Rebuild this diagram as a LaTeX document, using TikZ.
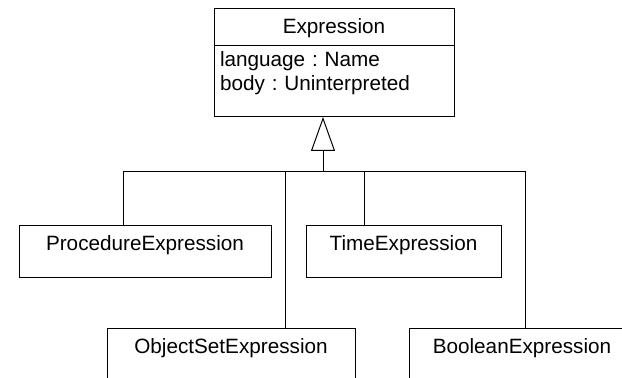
\documentclass[tikz,border=0pt]{standalone}
\usepackage{fontspec}
\setmainfont{Liberation Sans}
\usetikzlibrary{positioning,arrows.meta}
\frenchspacing
\newcommand{\umlfont}{\fontsize{10.35}{12}\selectfont}
\tikzset{
  umlclass/.style={draw=black, line width=0.5pt, outer sep=0pt, inner xsep=0pt, inner ysep=0pt,
    font=\umlfont, text height=12.5pt, text depth=13.5pt},
  umlattr/.style={draw=black, line width=0.5pt, outer sep=0pt, inner xsep=3pt, inner ysep=0pt,
    font=\umlfont, align=left, text width=114pt, text height=10.5pt, text depth=25pt},
  umlline/.style={draw=black, line width=0.5pt},
  generalization/.style={-{Triangle[open,length=17pt,width=12pt]}},
}

\begin{document}
\begin{tikzpicture}[x=0.5pt,y=0.5pt]
    \useasboundingbox (0,0) rectangle (622,-378);
    \clip (0,0) rectangle (622,-378);
    % superclass
    \node [umlclass, minimum width=120pt, text depth=6pt] (expr) at (334,-27.5) {Expression};
    \node [umlattr, below=0pt of expr] (exprattr) {language : Name\\body : Uninterpreted};
    % subclasses
    \node [umlclass, minimum width=126pt] (procexpr) at (145,-252) {ProcedureExpression};
    \node [umlclass, minimum width=97.5pt] (timeexpr) at (403.5,-252) {TimeExpression};
    \node [umlclass, minimum width=124pt] (objsetexpr) at (231,-355) {ObjectSetExpression};
    \node [umlclass, minimum width=113pt] (boolexpr) at (522,-355) {BooleanExpression};
    % inheritance tree
    \coordinate (join) at (323,-172);
    \coordinate (tproc) at (123,-172);
    \coordinate (tobj) at (285,-172);
    \coordinate (ttime) at (364,-172);
    \coordinate (tbool) at (525,-172);
    \draw [umlline, generalization] (join) -- (join |- exprattr.south);
    \draw [umlline] (tproc |- procexpr.north) -- (tproc) -- (tbool) -- (tbool |- boolexpr.north);
    \draw [umlline] (tobj) -- (tobj |- objsetexpr.north);
    \draw [umlline] (ttime) -- (ttime |- timeexpr.north);
\end{tikzpicture}
\end{document}
